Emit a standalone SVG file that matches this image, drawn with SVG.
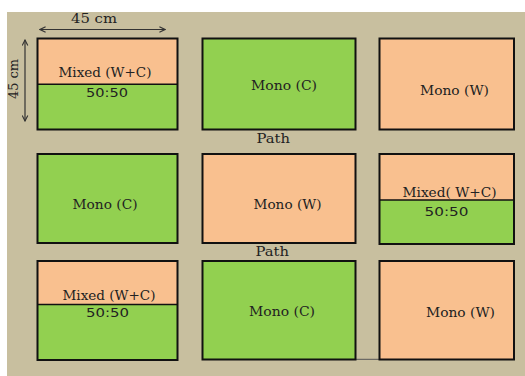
<svg xmlns="http://www.w3.org/2000/svg" width="525" height="376" viewBox="0 0 525 376">
  <defs>
    <style>
      .bg { fill: #c8bf9f; }
      .plot { stroke: #111; stroke-width: 2; }
      .cw { fill: #f9c08f; }
      .cc { fill: #92d050; }
      .div { stroke: #111; stroke-width: 1.6; }
      .lbl { font-family: "DejaVu Serif", "Liberation Serif", serif; font-size: 12.5px; fill: #222; }
      .ratio { font-family: "DejaVu Sans", "Liberation Sans", sans-serif; font-size: 13px; fill: #222; }
      .dim { stroke: #333; stroke-width: 1.2; fill: none; }
    </style>
    <marker id="chev" viewBox="0 0 10 10" refX="9" refY="5" markerWidth="7" markerHeight="7" orient="auto-start-reverse" markerUnits="userSpaceOnUse">
      <path d="M1,1 L9,5 L1,9" fill="none" stroke="#333" stroke-width="1.6"/>
    </marker>
  </defs>

  <rect class="bg" x="7" y="12" width="518" height="364"/>

  <!-- dimension arrows -->
  <g id="connectors">
    <line class="dim" x1="40" y1="29.5" x2="165" y2="29.5" marker-start="url(#chev)" marker-end="url(#chev)"/>
    <line class="dim" x1="25" y1="40" x2="25" y2="121" marker-start="url(#chev)" marker-end="url(#chev)"/>
    <line x1="355" y1="359.3" x2="380" y2="359.3" stroke="#555" stroke-width="1"/>
  </g>
  <text class="lbl" x="94" y="22.5" text-anchor="middle" textLength="46" lengthAdjust="spacingAndGlyphs" font-size="13">45 cm</text>
  <text class="lbl" transform="translate(17.5,79) rotate(-90)" text-anchor="middle" textLength="40" lengthAdjust="spacingAndGlyphs" font-size="13">45 cm</text>

  <!-- row 1 -->
  <g id="plot-a">
    <rect class="cw" x="37.5" y="38.5" width="140" height="46"/>
    <rect class="cc" x="37.5" y="84.5" width="140" height="45"/>
    <rect class="plot" x="37.5" y="38.5" width="140" height="91" fill="none"/>
    <line class="div" x1="37.5" y1="84.3" x2="177.5" y2="84.3"/>
    <text class="lbl" x="58.5" y="77" textLength="93" lengthAdjust="spacingAndGlyphs">Mixed (W+C)</text>
    <text class="ratio" x="86" y="96.5" textLength="42" lengthAdjust="spacingAndGlyphs">50:50</text>
  </g>
  <g id="plot-b">
    <rect class="cc plot" x="202.5" y="38.5" width="153" height="91"/>
    <text class="lbl" x="251" y="89.5" textLength="66" lengthAdjust="spacingAndGlyphs">Mono (C)</text>
  </g>
  <g id="plot-c">
    <rect class="cw plot" x="379.5" y="38.5" width="134.5" height="91"/>
    <text class="lbl" x="420" y="94.5" textLength="69" lengthAdjust="spacingAndGlyphs">Mono (W)</text>
  </g>

  <text class="lbl" x="256.5" y="143" textLength="33.5" lengthAdjust="spacingAndGlyphs">Path</text>

  <!-- row 2 -->
  <g id="plot-d">
    <rect class="cc plot" x="37.5" y="154" width="140" height="89"/>
    <text class="lbl" x="72.5" y="208.5" textLength="65" lengthAdjust="spacingAndGlyphs">Mono (C)</text>
  </g>
  <g id="plot-e">
    <rect class="cw plot" x="202.5" y="154" width="153" height="89"/>
    <text class="lbl" x="253.5" y="208.5" textLength="68" lengthAdjust="spacingAndGlyphs">Mono (W)</text>
  </g>
  <g id="plot-f">
    <rect class="cw" x="379.5" y="154" width="134.5" height="46"/>
    <rect class="cc" x="379.5" y="200" width="134.5" height="44"/>
    <rect class="plot" x="379.5" y="154" width="134.5" height="90" fill="none"/>
    <line class="div" x1="379.5" y1="200" x2="514" y2="200"/>
    <text class="lbl" x="402.5" y="196.5" textLength="94" lengthAdjust="spacingAndGlyphs">Mixed( W+C)</text>
    <text class="ratio" x="424.5" y="216" textLength="44" lengthAdjust="spacingAndGlyphs">50:50</text>
  </g>

  <text class="lbl" x="255.5" y="256" textLength="33.5" lengthAdjust="spacingAndGlyphs">Path</text>

  <!-- row 3 -->
  <g id="plot-g">
    <rect class="cw" x="37.5" y="261" width="140" height="43.5"/>
    <rect class="cc" x="37.5" y="304.5" width="140" height="55.5"/>
    <rect class="plot" x="37.5" y="261" width="140" height="99" fill="none"/>
    <line class="div" x1="37.5" y1="304.5" x2="177.5" y2="304.5"/>
    <text class="lbl" x="62.5" y="300" textLength="93" lengthAdjust="spacingAndGlyphs">Mixed (W+C)</text>
    <text class="ratio" x="86" y="316.5" textLength="43" lengthAdjust="spacingAndGlyphs">50:50</text>
  </g>
  <g id="plot-h">
    <rect class="cc plot" x="202.5" y="261" width="153" height="98.5"/>
    <text class="lbl" x="249" y="316" textLength="66" lengthAdjust="spacingAndGlyphs">Mono (C)</text>
  </g>
  <g id="plot-i">
    <rect class="cw plot" x="379.5" y="261" width="134.5" height="98.5"/>
    <text class="lbl" x="426" y="316.5" textLength="69" lengthAdjust="spacingAndGlyphs">Mono (W)</text>
  </g>
</svg>
